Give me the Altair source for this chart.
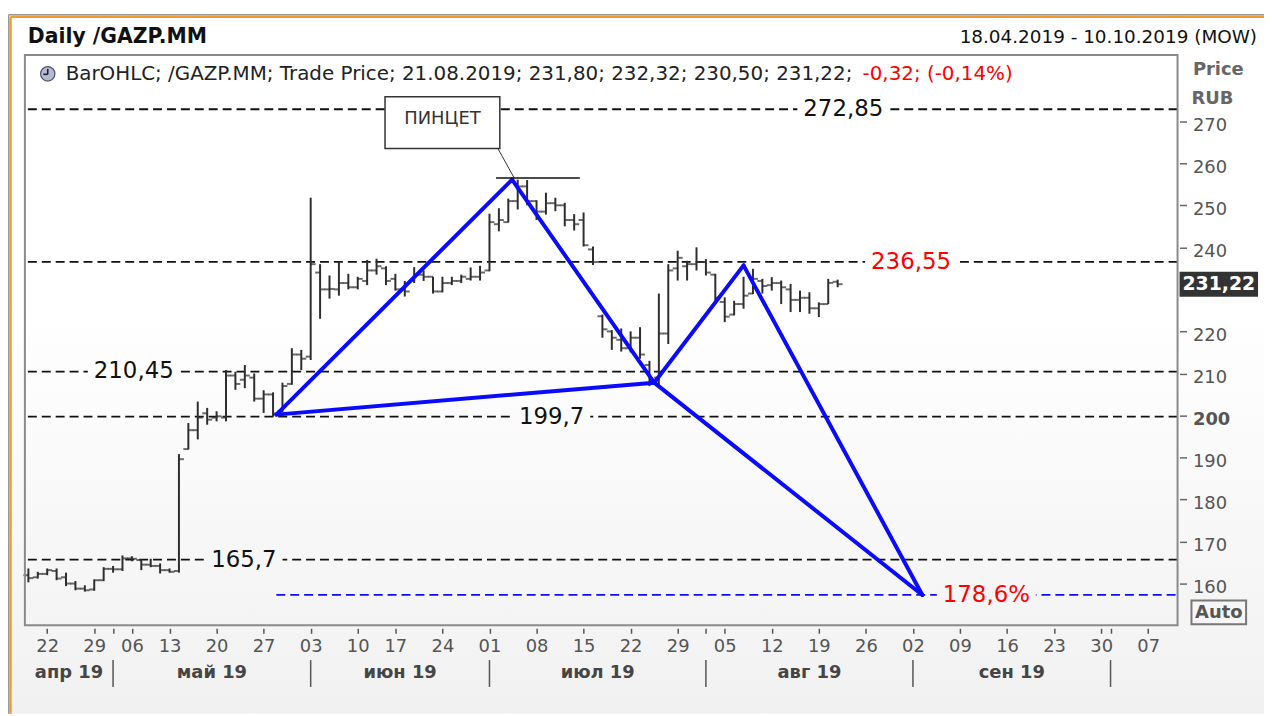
import altair as alt
import pandas as pd

# ---------------- data ----------------
opens = [162.0, 161.5, 162.3, 163.0, 161.5, 160.0, 158.8, 158.6, 160.8, 163.5,
         163.4, 166.0, 165.6, 164.5, 164.2, 163.2, 163.0, 192.0, 196.5, 200.5,
         199.5, 199.5, 209.5, 208.5, 209.0, 204.0, 205.0, 201.0, 207.5, 214.5,
         214.0, 234.0, 230.0, 230.0, 231.5, 230.5, 232.0, 234.5, 235.0, 232.5,
         230.0, 232.0, 233.5, 233.0, 229.5, 231.5, 232.0, 232.5, 233.0, 234.5,
         245.5, 246.0, 251.0, 254.5, 251.0, 248.5, 250.5, 250.0, 246.5, 246.5,
         239.5, 223.6, 220.0, 218.0, 216.0, 218.5, 212.0, 209.0, 219.5, 235.0,
         235.5, 236.0, 236.5, 233.5, 227.0, 224.0, 226.5, 229.0, 232.0, 231.0,
         231.5, 230.0, 227.5, 228.0, 225.5, 226.5, 231.80]
highs = [163.6, 162.8, 163.6, 163.6, 162.6, 160.6, 159.6, 161.0, 163.9, 164.2,
         166.7, 166.5, 165.8, 165.9, 164.8, 163.6, 190.8, 198.2, 203.3, 201.8,
         201.0, 210.8, 210.4, 212.0, 210.0, 206.0, 205.5, 207.8, 216.0, 215.6,
         251.8, 236.0, 233.3, 236.7, 233.7, 233.0, 237.0, 237.3, 235.5, 233.7,
         232.0, 235.3, 234.5, 233.0, 233.0, 233.0, 233.5, 235.2, 235.6, 248.0,
         249.3, 251.6, 256.1, 256.0, 251.2, 253.0, 251.8, 250.6, 247.9, 248.3,
         240.2, 224.0, 220.3, 220.7, 220.0, 221.0, 213.0, 229.0, 236.0, 239.2,
         236.8, 240.0, 237.2, 233.7, 228.1, 227.3, 233.0, 234.9, 232.5, 232.9,
         232.1, 231.3, 229.7, 229.3, 226.9, 232.5, 232.32]
lows = [160.3, 161.2, 162.0, 160.8, 159.4, 158.4, 158.1, 158.3, 160.6, 162.6,
        163.0, 165.3, 163.2, 163.9, 162.4, 162.6, 162.6, 191.9, 194.3, 197.8,
        198.6, 198.6, 206.1, 206.5, 203.3, 200.6, 199.7, 200.8, 207.3, 210.8,
        213.2, 223.0, 227.8, 228.5, 230.0, 230.0, 231.0, 233.5, 231.0, 229.7,
        228.3, 231.5, 232.0, 229.0, 229.3, 231.0, 231.5, 232.1, 232.1, 234.3,
        243.8, 245.9, 249.0, 250.0, 246.5, 247.8, 248.6, 245.0, 244.0, 240.2,
        235.8, 218.5, 215.6, 215.2, 215.0, 213.5, 207.0, 207.0, 217.0, 232.1,
        232.1, 234.5, 233.3, 227.3, 222.2, 223.8, 225.4, 228.9, 229.0, 229.7,
        226.5, 224.6, 224.6, 224.2, 223.4, 226.5, 230.50]
closes = [161.3, 162.3, 163.2, 161.2, 160.0, 158.8, 158.4, 160.8, 163.5, 163.4,
          166.0, 165.9, 164.5, 164.2, 163.2, 162.8, 189.6, 196.5, 199.5, 199.0,
          199.8, 209.5, 207.5, 209.5, 204.0, 205.0, 200.5, 207.0, 214.5, 213.5,
          236.0, 230.0, 230.1, 231.5, 230.5, 232.5, 234.5, 235.5, 232.0, 230.0,
          229.5, 233.5, 233.0, 229.5, 231.5, 232.0, 233.0, 233.0, 234.0, 246.0,
          246.5, 251.0, 254.5, 251.0, 248.5, 250.5, 250.0, 246.5, 245.5, 240.5,
          236.5, 220.5, 218.5, 216.0, 218.5, 214.5, 208.5, 219.5, 234.5, 237.5,
          236.0, 236.5, 234.0, 228.0, 223.5, 226.5, 228.5, 232.5, 230.8, 231.5,
          230.5, 227.5, 228.0, 225.5, 226.5, 231.54, 231.22]

level_values = [272.85, 236.55, 210.45, 199.7, 165.7]
level_labels = ["272,85", "236,55", "210,45", "199,7", "165,7"]
level_label_at = [86.6, 93.8, 11.2, 55.6, 22.9]          # trading-day index of label centre
level_label_colors = ["#111111", "#ff0000", "#111111", "#111111", "#111111"]

target_value = 157.3
target_label = "178,6%"
target_label_at = 101.8
target_from = 26.35

pattern_x = [26.35, 51.4, 66.5, 76.0, 95.0]     # X, A, B, C, D
pattern_y = [200.2, 256.1, 207.8, 235.7, 157.3]
pattern_links = [(0, 1), (1, 2), (2, 3), (3, 4), (0, 2), (2, 4)]

pincer_text = "ПИНЦЕТ"
pincer_box_x = [37.9, 50.1]
pincer_box_y = [263.5, 275.8]
pincer_top_x = [49.7, 58.6]
pincer_top_y = 256.5
pincer_leader_x = [49.9, 51.6]
pincer_leader_y = [263.5, 256.6]

month_names = ["апр 19", "май 19", "июн 19", "июл 19", "авг 19", "сен 19"]
y_ticks = [160, 170, 180, 190, 200, 210, 220, 240, 250, 260, 270]

title_text = "Daily /GAZP.MM"
range_text = "18.04.2019 - 10.10.2019 (MOW)"
series_text = "BarOHLC; /GAZP.MM; Trade Price"

# ---------------- derived tables ----------------
days = pd.bdate_range("2019-04-18", "2019-10-10")
days = days[~days.isin(pd.to_datetime(["2019-05-01", "2019-05-09", "2019-06-12"]))]
n = len(opens)
ohlc = pd.DataFrame({"i": list(range(n)), "date": list(days[:n].strftime("%d.%m.%Y")),
                     "open": opens, "high": highs, "low": lows, "close": closes})

mondays = [k for k, d in enumerate(days) if d.weekday() == 0]
month_starts = [k for k in range(1, len(days)) if days[k].month != days[k - 1].month]
tick_vals = sorted(set(mondays) | set(month_starts))
tick_labs = [days[k].strftime("%d") if k in mondays else "" for k in tick_vals]

W, H = 1160, 574
XD = [-0.37, 122.12]
YD = [150.07, 285.77]
XS = alt.Scale(domain=XD, nice=False, zero=False)
YS = alt.Scale(domain=YD, nice=False, zero=False)
FONT = "DejaVu Sans"

XAXIS = alt.Axis(values=tick_vals,
                 labelExpr="%s[indexof(%s, datum.value)]" % (str(tick_labs).replace('"', "'"), str(tick_vals)),
                 orient="bottom", offset=3, tickSize=5, tickColor="#555555", tickWidth=1.5,
                 labelFont=FONT, labelFontSize=18, labelColor="#555555", labelPadding=4,
                 domain=False, grid=False, title=None, zindex=1, labelOverlap=False, labelFlush=False)
YAXIS = alt.Axis(values=y_ticks, orient="right", offset=2, tickSize=7, tickColor="#666666",
                 tickWidth=1.5, labelFont=FONT, labelFontSize=18, labelColor="#555555",
                 labelPadding=6, labelOffset=4, labelBaseline="middle",
                 labelFontWeight={"condition": {"test": "datum.value == 200", "value": "bold"},
                                  "value": "normal"},
                 domain=False, grid=False, title=None, zindex=1, labelOverlap=False, labelFlush=False)


def X(f):
    return alt.X(f, type="quantitative", scale=XS, axis=XAXIS, title=None)


def Y(f):
    return alt.Y(f, type="quantitative", scale=YS, axis=YAXIS, title=None)


def em(s):
    w = 0.0
    for ch in s:
        w += 0.636 if ch.isdigit() else (0.95 if ch == "%" else 0.318)
    return w


def bg_at(v):
    ypx = (YD[1] - v) / (YD[1] - YD[0]) * H
    off = (ypx + 45) / 708.0
    t = min(max((off - 0.42) / 0.46, 0), 1)
    c = int(round(255 - t * (255 - 244)))
    return "#%02x%02x%02x" % (c, c, c)


def one(text=""):
    return alt.Chart(pd.DataFrame({"t": [text]}))


# ---------------- layers ----------------
grad = alt.LinearGradient(gradient="linear", x1=0, x2=0, y1=0, y2=1,
                          stops=[alt.GradientStop(color="#ffffff", offset=0),
                                 alt.GradientStop(color="#ffffff", offset=0.42),
                                 alt.GradientStop(color="#f4f4f4", offset=0.88),
                                 alt.GradientStop(color="#f1f1f1", offset=1)])
bg = one().mark_rect(fill=grad).encode(x=alt.value(-17), x2=alt.value(1247),
                                      y=alt.value(-45), y2=alt.value(663))

border_gray = one().mark_rule(color="#9a9a9a", strokeWidth=1.5).encode(
    x=alt.value(-16.5), x2=alt.value(-16.5), y=alt.value(-40.5), y2=alt.value(663))
border_gray_top = one().mark_rule(color="#9a9a9a", strokeWidth=1.5).encode(
    x=alt.value(-16.5), x2=alt.value(1247), y=alt.value(-40.5), y2=alt.value(-40.5))
border_or = one().mark_rule(color="#f39a2e", strokeWidth=2.5).encode(
    x=alt.value(-14.5), x2=alt.value(-14.5), y=alt.value(-38.5), y2=alt.value(663))
border_or_top = one().mark_rule(color="#f39a2e", strokeWidth=2.5).encode(
    x=alt.value(-14.5), x2=alt.value(1247), y=alt.value(-38.5), y2=alt.value(-38.5))

levels = pd.DataFrame({"v": level_values})
level_rules = alt.Chart(levels).mark_rule(color="#111111", strokeWidth=1.8,
                                           strokeDash=[9, 5]).encode(y=Y("v"))

target_rule = alt.Chart(pd.DataFrame({"x": [target_from], "v": [target_value]})).mark_rule(
    color="#0e0ef5", strokeWidth=1.8, strokeDash=[9, 5]).encode(x=X("x"), x2=alt.value(W), y=Y("v"))

hl = alt.Chart(ohlc).mark_rule(color="#2e2e2e", strokeWidth=2).encode(
    x=X("i"), y=Y("low"), y2="high:Q")
op = alt.Chart(ohlc).mark_tick(color="#2e2e2e", orient="horizontal", size=5, thickness=2,
                               xOffset=-2.5).encode(x=X("i"), y=Y("open"))
cl = alt.Chart(ohlc).mark_tick(color="#2e2e2e", orient="horizontal", size=5, thickness=2,
                               xOffset=2.5).encode(x=X("i"), y=Y("close"))

segs = pd.DataFrame({"x": [pattern_x[a] for a, b in pattern_links],
                     "y": [pattern_y[a] for a, b in pattern_links],
                     "x2": [pattern_x[b] for a, b in pattern_links],
                     "y2": [pattern_y[b] for a, b in pattern_links]})
pattern = alt.Chart(segs).mark_rule(color="#0a0aff", strokeWidth=4, strokeCap="round").encode(
    x=X("x"), y=Y("y"), x2="x2", y2="y2")

lab_df = pd.DataFrame({
    "t": level_labels + [target_label],
    "x": level_label_at + [target_label_at],
    "v": level_values + [target_value],
    "c": level_label_colors + ["#ff0000"],
})
lab_df["hw"] = [(em(s) * 23 / 2 + 6) / 9.47 for s in lab_df["t"]]
lab_df["x0"] = lab_df["x"] - lab_df["hw"]
lab_df["x1"] = lab_df["x"] + lab_df["hw"]
lab_df["y0"] = lab_df["v"] - 2.4
lab_df["y1"] = lab_df["v"] + 2.4
lab_df["bg"] = [bg_at(v) for v in lab_df["v"]]
lab_bg = alt.Chart(lab_df).mark_rect().encode(x=X("x0"), x2="x1", y=Y("y0"), y2="y1",
                                              color=alt.Color("bg:N", scale=None))
lab_txt = alt.Chart(lab_df).mark_text(font=FONT, fontSize=23, baseline="middle", align="center").encode(
    x=X("x"), y=Y("v"), text="t:N", color=alt.Color("c:N", scale=None))

box_df = pd.DataFrame({"x0": [pincer_box_x[0]], "x1": [pincer_box_x[1]],
                       "y0": [pincer_box_y[0]], "y1": [pincer_box_y[1]],
                       "xm": [(pincer_box_x[0] + pincer_box_x[1]) / 2],
                       "ym": [(pincer_box_y[0] + pincer_box_y[1]) / 2 + 0.9],
                       "t": [pincer_text]})
pbox = alt.Chart(box_df).mark_rect(fill="#ffffff", stroke="#333333", strokeWidth=1.5).encode(
    x=X("x0"), x2="x1", y=Y("y0"), y2="y1")
ptxt = alt.Chart(box_df).mark_text(font=FONT, fontSize=18, color="#333333").encode(
    x=X("xm"), y=Y("ym"), text="t:N")
plead = alt.Chart(pd.DataFrame({"x": [pincer_leader_x[0]], "x2": [pincer_leader_x[1]],
                                "y": [pincer_leader_y[0]], "y2": [pincer_leader_y[1]]})).mark_rule(
    color="#333333", strokeWidth=1).encode(x=X("x"), x2="x2", y=Y("y"), y2="y2")
ptop = alt.Chart(pd.DataFrame({"x": [pincer_top_x[0]], "x2": [pincer_top_x[1]],
                               "y": [pincer_top_y]})).mark_rule(color="#111111", strokeWidth=1.5).encode(
    x=X("x"), x2="x2", y=Y("y"))

# header
last = ohlc.iloc[-1]
prev_close = ohlc.iloc[-2]["close"]
chg = last["close"] - prev_close
pct = chg / prev_close * 100


def rus(v):
    return ("%.2f" % v).replace(".", ",")


legend_black = "%s; %s; %s; %s; %s; %s;" % (series_text, last["date"], rus(last["open"]),
                                            rus(last["high"]), rus(last["low"]), rus(last["close"]))
legend_red = "%s; (%s%%)" % (rus(chg), rus(pct))

title_t = one(title_text).mark_text(font=FONT, fontSize=20.5, fontWeight="bold", align="left",
                                    baseline="middle", color="#111111").encode(
    text="t:N", x=alt.value(3), y=alt.value(-18))
range_t = one(range_text).mark_text(font=FONT, fontSize=18.5, align="right", baseline="middle",
                                    color="#111111").encode(text="t:N", x=alt.value(1240), y=alt.value(-18))
icon = one().mark_circle(size=210, color="#b4bbd2", stroke="#4c5372", strokeWidth=1.2, opacity=1).encode(
    x=alt.value(23), y=alt.value(19))
hand1 = one().mark_rule(color="#222222", strokeWidth=1.6).encode(
    x=alt.value(23), x2=alt.value(23), y=alt.value(14), y2=alt.value(19.5))
hand2 = one().mark_rule(color="#222222", strokeWidth=1.6).encode(
    x=alt.value(18.5), x2=alt.value(23), y=alt.value(19.5), y2=alt.value(19.5))
leg_b = one(legend_black).mark_text(font=FONT, fontSize=20, align="left", baseline="middle",
                                    color="#222222").encode(text="t:N", x=alt.value(41), y=alt.value(19))
leg_r = one(legend_red).mark_text(font=FONT, fontSize=20, align="left", baseline="middle",
                                  color="#ff0000").encode(text="t:N", x=alt.value(843), y=alt.value(19))

# right side extras
price_t = one("Price").mark_text(font=FONT, fontSize=18, fontWeight="bold", color="#666666").encode(
    text="t:N", x=alt.value(1201), y=alt.value(15))
rub_t = one("RUB").mark_text(font=FONT, fontSize=18, fontWeight="bold", color="#666666").encode(
    text="t:N", x=alt.value(1195), y=alt.value(44))
tag_df = pd.DataFrame({"v": [last["close"]], "v0": [last["close"] - 3.0], "v1": [last["close"] + 3.0],
                       "t": [rus(last["close"])]})
tag_box = alt.Chart(tag_df).mark_rect(color="#333333").encode(
    x=alt.value(1162), x2=alt.value(1241), y=Y("v0"), y2="v1")
tag_txt = alt.Chart(tag_df).mark_text(font=FONT, fontSize=19, fontWeight="bold", color="#ffffff").encode(
    x=alt.value(1201.5), y=Y("v"), text="t:N")
auto_box = one().mark_rect(fill="#f6f6f6", stroke="#777777", strokeWidth=2).encode(
    x=alt.value(1174), x2=alt.value(1229), y=alt.value(549), y2=alt.value(573))
auto_t = one("Auto").mark_text(font=FONT, fontSize=18, fontWeight="bold", color="#555555").encode(
    text="t:N", x=alt.value(1201.5), y=alt.value(561.5))

# month row
bounds = [XD[0]] + month_starts
mdf = pd.DataFrame({"t": month_names,
                    "x": [(bounds[k] + bounds[k + 1]) / 2 for k in range(len(month_names))]})
mlab = alt.Chart(mdf).mark_text(font=FONT, fontSize=18, fontWeight="bold", color="#454545").encode(
    x=X("x"), y=alt.value(622), text="t:N")
sdf = pd.DataFrame({"x": month_starts})
msep = alt.Chart(sdf).mark_rule(color="#555555", strokeWidth=1.5).encode(
    x=X("x"), y=alt.value(609), y2=alt.value(636))

frame = one().mark_rect(fillOpacity=0, stroke="#8a8a8a", strokeWidth=2).encode(
    x=alt.value(0), x2=alt.value(W), y=alt.value(0), y2=alt.value(H))

chart = alt.layer(
    bg, border_gray, border_gray_top, border_or, border_or_top,
    level_rules, target_rule, hl, op, cl, pattern, lab_bg, lab_txt,
    pbox, ptxt, plead, ptop,
    title_t, range_t, icon, hand1, hand2, leg_b, leg_r,
    price_t, rub_t, tag_box, tag_txt, auto_box, auto_t, mlab, msep, frame
).properties(
    width=W, height=H,
    padding={"left": 17, "top": 45, "right": 87, "bottom": 89},
    autosize=alt.AutoSizeParams(type="none"),
    background="#ffffff",
).configure_view(stroke=None)

chart.save("out.html", embed_options={"renderer": "svg", "actions": False})
